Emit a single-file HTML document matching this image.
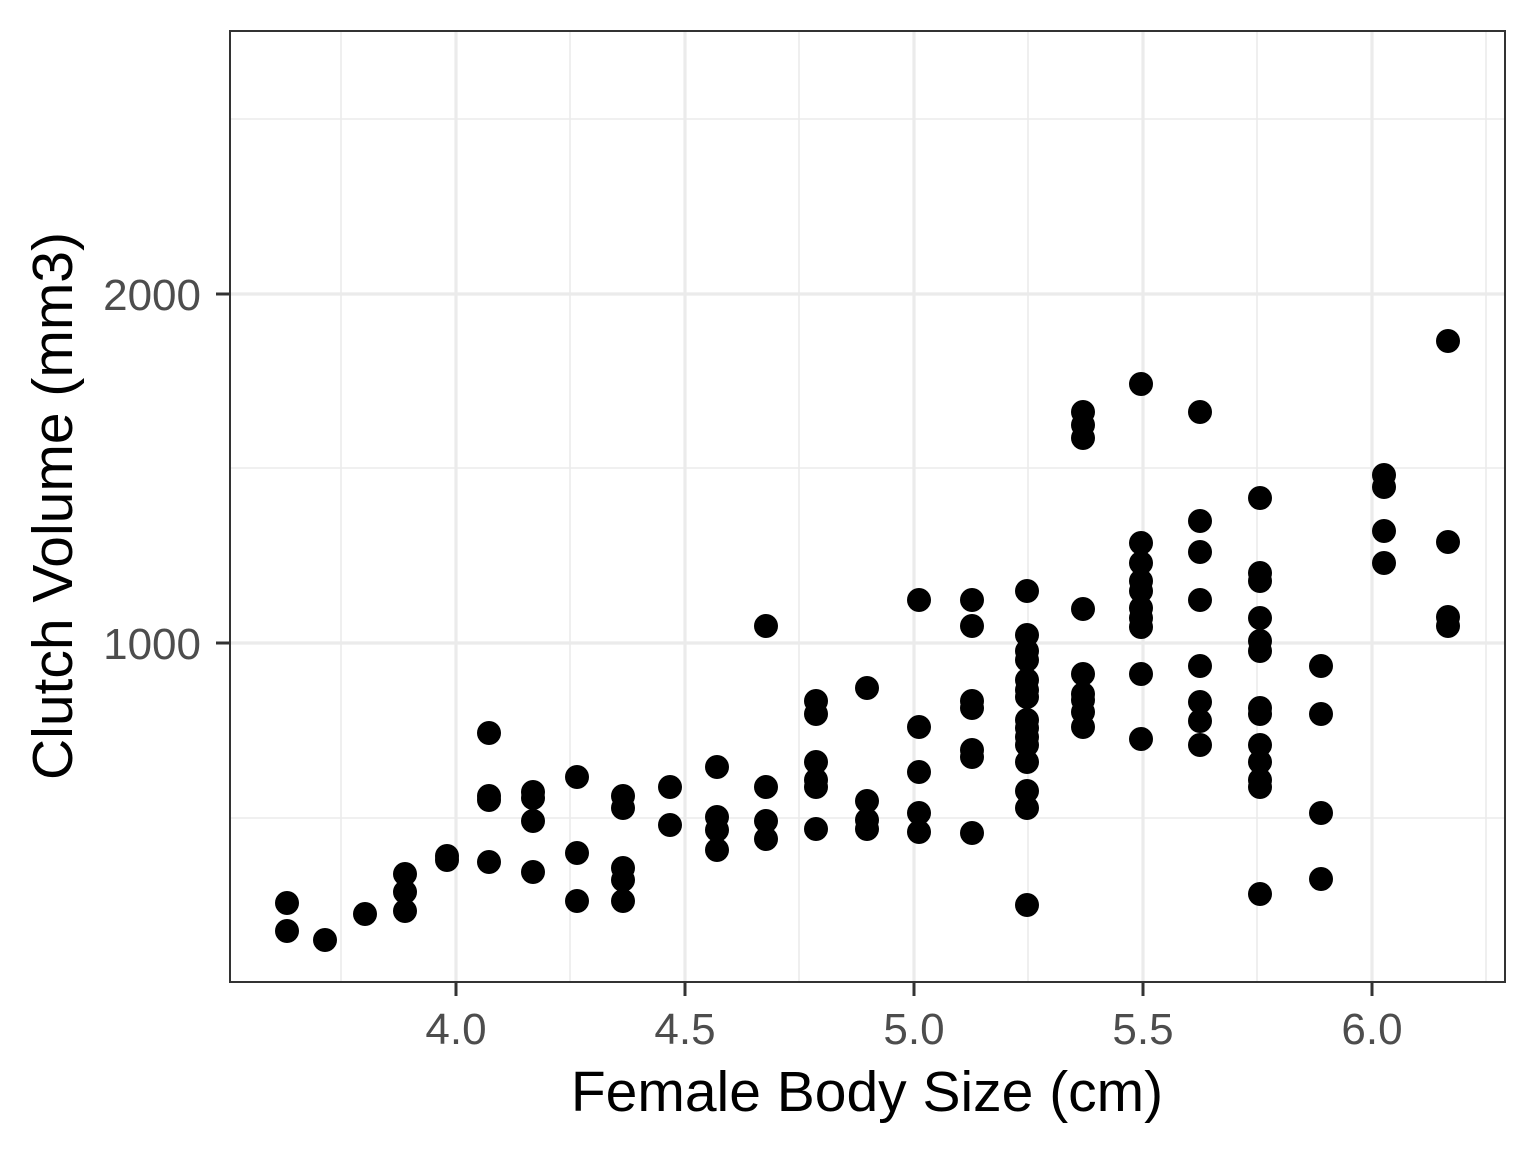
<!DOCTYPE html>
<html><head><meta charset="utf-8"><style>html,body{margin:0;padding:0;background:#fff}svg{display:block}</style></head><body>
<svg width="1536" height="1152" viewBox="0 0 1536 1152" xmlns="http://www.w3.org/2000/svg">
<rect x="0" y="0" width="1536" height="1152" fill="#fff"/>
<g stroke="#ebebeb" stroke-width="1.6">
<line x1="230" x2="1505" y1="119" y2="119"/><line x1="230" x2="1505" y1="468" y2="468"/><line x1="230" x2="1505" y1="818" y2="818"/>
<line x1="341" x2="341" y1="31" y2="982"/><line x1="570" x2="570" y1="31" y2="982"/><line x1="799" x2="799" y1="31" y2="982"/><line x1="1028" x2="1028" y1="31" y2="982"/><line x1="1257" x2="1257" y1="31" y2="982"/><line x1="1486" x2="1486" y1="31" y2="982"/>
</g>
<g stroke="#ebebeb" stroke-width="3.2">
<line x1="230" x2="1505" y1="294" y2="294"/><line x1="230" x2="1505" y1="643" y2="643"/>
<line x1="456" x2="456" y1="31" y2="982"/><line x1="685" x2="685" y1="31" y2="982"/><line x1="914" x2="914" y1="31" y2="982"/><line x1="1143" x2="1143" y1="31" y2="982"/><line x1="1372" x2="1372" y1="31" y2="982"/>
</g>
<g fill="#000">
<circle cx="287" cy="903" r="12"/><circle cx="287" cy="931" r="12"/><circle cx="325" cy="940" r="12"/><circle cx="365" cy="914" r="12"/>
<circle cx="405" cy="874" r="12"/><circle cx="405" cy="892" r="12"/><circle cx="405" cy="911" r="12"/>
<circle cx="447" cy="856" r="12"/><circle cx="447" cy="860" r="12"/>
<circle cx="489" cy="733" r="12"/><circle cx="489" cy="796" r="12"/><circle cx="489" cy="800" r="12"/><circle cx="489" cy="862" r="12"/>
<circle cx="533" cy="792" r="12"/><circle cx="533" cy="798" r="12"/><circle cx="533" cy="821" r="12"/><circle cx="533" cy="872" r="12"/>
<circle cx="577" cy="777" r="12"/><circle cx="577" cy="853" r="12"/><circle cx="577" cy="901" r="12"/>
<circle cx="623" cy="796" r="12"/><circle cx="623" cy="808" r="12"/><circle cx="623" cy="868" r="12"/><circle cx="623" cy="880" r="12"/><circle cx="623" cy="901" r="12"/>
<circle cx="670" cy="787" r="12"/><circle cx="670" cy="825" r="12"/>
<circle cx="717" cy="767" r="12"/><circle cx="717" cy="817" r="12"/><circle cx="717" cy="830" r="12"/><circle cx="717" cy="850" r="12"/>
<circle cx="766" cy="626" r="12"/><circle cx="766" cy="787" r="12"/><circle cx="766" cy="821" r="12"/><circle cx="766" cy="839" r="12"/>
<circle cx="816" cy="701" r="12"/><circle cx="816" cy="714" r="12"/><circle cx="816" cy="762" r="12"/><circle cx="816" cy="780" r="12"/><circle cx="816" cy="787" r="12"/><circle cx="816" cy="829" r="12"/>
<circle cx="867" cy="688" r="12"/><circle cx="867" cy="801" r="12"/><circle cx="867" cy="820" r="12"/><circle cx="867" cy="829" r="12"/>
<circle cx="919" cy="600" r="12"/><circle cx="919" cy="727" r="12"/><circle cx="919" cy="772" r="12"/><circle cx="919" cy="813" r="12"/><circle cx="919" cy="832" r="12"/>
<circle cx="972" cy="600" r="12"/><circle cx="972" cy="626" r="12"/><circle cx="972" cy="701" r="12"/><circle cx="972" cy="708" r="12"/><circle cx="972" cy="750" r="12"/><circle cx="972" cy="757" r="12"/><circle cx="972" cy="833" r="12"/>
<circle cx="1027" cy="591" r="12"/><circle cx="1027" cy="635" r="12"/><circle cx="1027" cy="651" r="12"/><circle cx="1027" cy="660" r="12"/><circle cx="1027" cy="680" r="12"/><circle cx="1027" cy="690" r="12"/><circle cx="1027" cy="697" r="12"/><circle cx="1027" cy="720" r="12"/><circle cx="1027" cy="728" r="12"/><circle cx="1027" cy="737" r="12"/><circle cx="1027" cy="745" r="12"/><circle cx="1027" cy="762" r="12"/><circle cx="1027" cy="791" r="12"/><circle cx="1027" cy="808" r="12"/><circle cx="1027" cy="905" r="12"/>
<circle cx="1083" cy="412" r="12"/><circle cx="1083" cy="425" r="12"/><circle cx="1083" cy="438" r="12"/><circle cx="1083" cy="609" r="12"/><circle cx="1083" cy="674" r="12"/><circle cx="1083" cy="694" r="12"/><circle cx="1083" cy="700" r="12"/><circle cx="1083" cy="712" r="12"/><circle cx="1083" cy="727" r="12"/>
<circle cx="1141" cy="384" r="12"/><circle cx="1141" cy="543" r="12"/><circle cx="1141" cy="563" r="12"/><circle cx="1141" cy="581" r="12"/><circle cx="1141" cy="591" r="12"/><circle cx="1141" cy="608" r="12"/><circle cx="1141" cy="618" r="12"/><circle cx="1141" cy="627" r="12"/><circle cx="1141" cy="674" r="12"/><circle cx="1141" cy="739" r="12"/>
<circle cx="1200" cy="412" r="12"/><circle cx="1200" cy="521" r="12"/><circle cx="1200" cy="552" r="12"/><circle cx="1200" cy="600" r="12"/><circle cx="1200" cy="666" r="12"/><circle cx="1200" cy="702" r="12"/><circle cx="1200" cy="721" r="12"/><circle cx="1200" cy="745" r="12"/>
<circle cx="1260" cy="498" r="12"/><circle cx="1260" cy="573" r="12"/><circle cx="1260" cy="581" r="12"/><circle cx="1260" cy="618" r="12"/><circle cx="1260" cy="641" r="12"/><circle cx="1260" cy="651" r="12"/><circle cx="1260" cy="708" r="12"/><circle cx="1260" cy="714" r="12"/><circle cx="1260" cy="745" r="12"/><circle cx="1260" cy="762" r="12"/><circle cx="1260" cy="780" r="12"/><circle cx="1260" cy="787" r="12"/><circle cx="1260" cy="894" r="12"/>
<circle cx="1321" cy="666" r="12"/><circle cx="1321" cy="714" r="12"/><circle cx="1321" cy="813" r="12"/><circle cx="1321" cy="879" r="12"/>
<circle cx="1384" cy="475" r="12"/><circle cx="1384" cy="487" r="12"/><circle cx="1384" cy="531" r="12"/><circle cx="1384" cy="563" r="12"/>
<circle cx="1448" cy="341" r="12"/><circle cx="1448" cy="542" r="12"/><circle cx="1448" cy="617" r="12"/><circle cx="1448" cy="626" r="12"/>
</g>
<rect x="230" y="31" width="1275" height="951" fill="none" stroke="#333" stroke-width="2"/>
<g stroke="#333" stroke-width="3">
<line x1="216" x2="230" y1="294" y2="294"/><line x1="216" x2="230" y1="643" y2="643"/>
<line x1="456" x2="456" y1="982" y2="996"/><line x1="685" x2="685" y1="982" y2="996"/><line x1="914" x2="914" y1="982" y2="996"/><line x1="1143" x2="1143" y1="982" y2="996"/><line x1="1372" x2="1372" y1="982" y2="996"/>
</g>
<g font-family="Liberation Sans, sans-serif" font-size="44" fill="#4d4d4d">
<text x="201" y="310" text-anchor="end">2000</text><text x="201" y="659" text-anchor="end">1000</text>
<text x="456" y="1044" text-anchor="middle">4.0</text><text x="685" y="1044" text-anchor="middle">4.5</text><text x="914" y="1044" text-anchor="middle">5.0</text><text x="1143" y="1044" text-anchor="middle">5.5</text><text x="1372" y="1044" text-anchor="middle">6.0</text>
</g>
<g font-family="Liberation Sans, sans-serif" font-size="57" fill="#000">
<text x="867" y="1111" text-anchor="middle">Female Body Size (cm)</text>
<text transform="translate(72,506) rotate(-90)" text-anchor="middle">Clutch Volume (mm3)</text>
</g>
</svg>
</body></html>
